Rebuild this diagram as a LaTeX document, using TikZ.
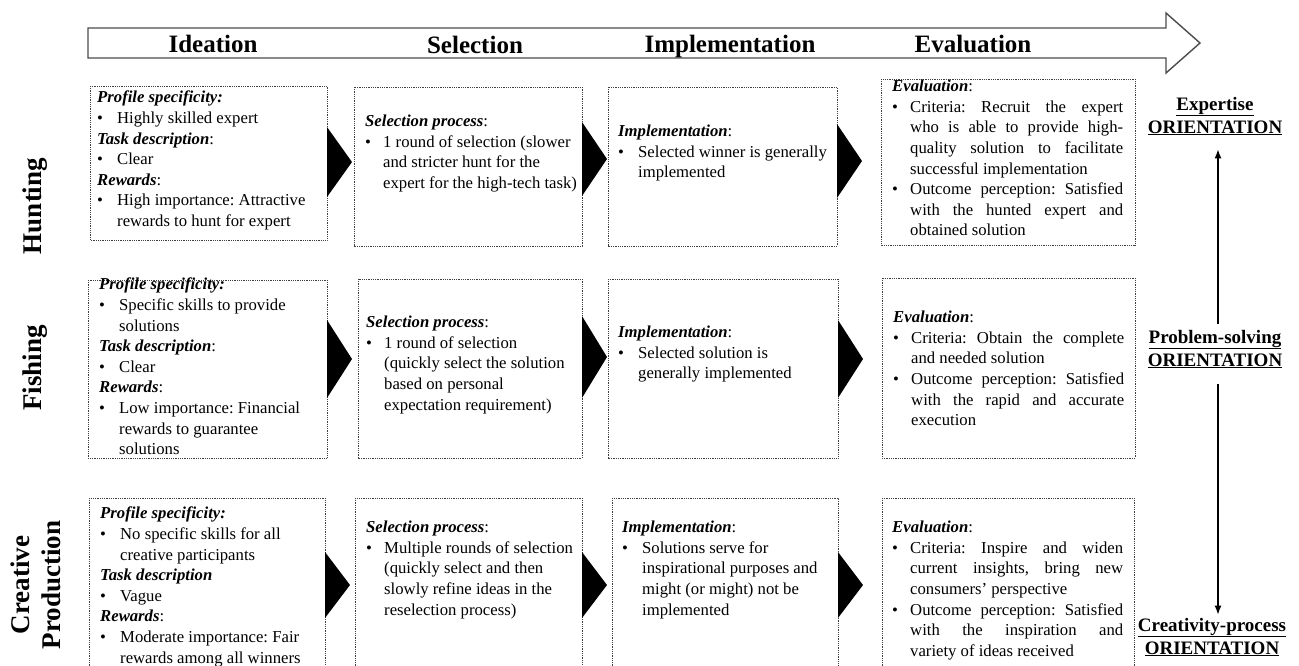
\documentclass[tikz,border=0pt]{standalone}
\usepackage{fontspec}
\setmainfont{Liberation Serif}
\usetikzlibrary{arrows.meta}
\newlength{\bind}
\setlength{\bind}{20pt}
\newcommand{\hd}[1]{\textbf{\textit{#1}}}
\newcommand{\bl}{\makebox[\bind][l]{\textbullet}}
\newcommand{\ind}{\hspace*{\bind}}
\newcommand{\jl}[1]{\makebox[213pt][s]{#1}}
\frenchspacing
\begin{document}
\begin{tikzpicture}[x=1pt,y=-1pt,
  boxline/.style={draw=black!75, line width=0.9pt, dash pattern=on 0.9pt off 0.9pt},
  txt/.style={anchor=north west, inner sep=0pt, align=left, font=\fontsize{16.7}{20.6}\selectfont},
  head/.style={anchor=base, inner sep=0pt, font=\fontsize{25}{30}\selectfont\bfseries},
  rowlab/.style={rotate=90, inner sep=0pt, align=center, font=\fontsize{27}{31}\selectfont\bfseries},
  orient/.style={inner sep=0pt, align=center, font=\fontsize{19}{23}\selectfont\bfseries},
  tri/.style={fill=black},
  vert/.style={line width=1.3pt, -{Latex[length=9pt,width=7pt]}}
]
\useasboundingbox (0,0) rectangle (1299,665);
\clip (0,0) rectangle (1299,665);
\fill[white] (0,0) rectangle (1299,665);

% top process arrow
\draw[draw=black!70, line width=1.4pt, fill=white]
  (88,28) -- (1166,28) -- (1166,13) -- (1200,43) -- (1166,73) -- (1166,58) -- (88,58) -- cycle;
\node[head] (h1) at (213,52) {Ideation};
\node[head] (h2) at (475,53) {Selection};
\node[head] (h3) at (730,52) {Implementation};
\node[head] (h4) at (973,52) {Evaluation};

% row labels
\node[rowlab] (hunt) at (35,206) {Hunting};
\node[rowlab] (fish) at (35,368) {Fishing};
\node[rowlab] (crea) at (36,585) {Creative\\Production};

% boxes
\draw[boxline] (90,86) rectangle (327,240);
\draw[boxline] (354,87) rectangle (582,246);
\draw[boxline] (608,87) rectangle (837,246);
\draw[boxline] (881,79) rectangle (1135,245);
\draw[boxline] (88,280) rectangle (327,458);
\draw[boxline] (358,279) rectangle (582,458);
\draw[boxline] (608,279) rectangle (838,458);
\draw[boxline] (882,278) rectangle (1135,458);
\draw[boxline] (89,498) rectangle (325,700);
\draw[boxline] (355,498) rectangle (582,700);
\draw[boxline] (612,498) rectangle (838,700);
\draw[boxline] (882,498) rectangle (1134,700);

% triangles
\fill[tri] (327,127) -- (352,162) -- (327,197) -- cycle;
\fill[tri] (582,122) -- (607,159) -- (582,196) -- cycle;
\fill[tri] (837,124) -- (862,161) -- (837,198) -- cycle;
\fill[tri] (327,320) -- (352,359) -- (327,398) -- cycle;
\fill[tri] (582,316) -- (607,357) -- (582,398) -- cycle;
\fill[tri] (838,320) -- (863,359) -- (838,398) -- cycle;
\fill[tri] (325,552) -- (350,585) -- (325,618) -- cycle;
\fill[tri] (582,552) -- (607,585) -- (582,618) -- cycle;
\fill[tri] (838,552) -- (863,585) -- (838,618) -- cycle;

% row 1 texts
\node[txt] (a1) at (97,91) {\hd{Profile specificity:}\\
\bl Highly skilled expert\\
\hd{Task description}:\\
\bl Clear\\
\hd{Rewards}:\\
\bl High importance: Attractive\\
\ind rewards to hunt for expert};
\setlength{\bind}{18pt}
\node[txt] (b1) at (365,115) {\hd{Selection process}:\\
\bl 1 round of selection (slower\\
\ind and stricter hunt for the\\
\ind expert for the high-tech task)};
\setlength{\bind}{20pt}
\node[txt] (c1) at (618,125) {\hd{Implementation}:\\
\bl Selected winner is generally\\
\ind implemented};
\setlength{\bind}{18pt}
\node[txt] (d1) at (892,80) {\hd{Evaluation}:\\
\bl\jl{Criteria: Recruit the expert}\\
\ind\jl{who is able to provide high-}\\
\ind\jl{quality solution to facilitate}\\
\ind successful implementation\\
\bl\jl{Outcome perception: Satisfied}\\
\ind\jl{with the hunted expert and}\\
\ind obtained solution};

% row 2 texts
\setlength{\bind}{20pt}
\node[txt] (a2) at (99,278) {\hd{Profile specificity:}\\
\bl Specific skills to provide\\
\ind solutions\\
\hd{Task description}:\\
\bl Clear\\
\hd{Rewards}:\\
\bl Low importance: Financial\\
\ind rewards to guarantee\\
\ind solutions};
\setlength{\bind}{18pt}
\node[txt] (b2) at (366,316) {\hd{Selection process}:\\
\bl 1 round of selection\\
\ind (quickly select the solution\\
\ind based on personal\\
\ind expectation requirement)};
\setlength{\bind}{20pt}
\node[txt] (c2) at (618,326) {\hd{Implementation}:\\
\bl Selected solution is\\
\ind generally implemented};
\setlength{\bind}{18pt}
\node[txt] (d2) at (893,311) {\hd{Evaluation}:\\
\bl\jl{Criteria: Obtain the complete}\\
\ind and needed solution\\
\bl\jl{Outcome perception: Satisfied}\\
\ind\jl{with the rapid and accurate}\\
\ind execution};

% row 3 texts
\setlength{\bind}{20pt}
\node[txt] (a3) at (100,507) {\hd{Profile specificity:}\\
\bl No specific skills for all\\
\ind creative participants\\
\hd{Task description}\\
\bl Vague\\
\hd{Rewards}:\\
\bl Moderate importance: Fair\\
\ind rewards among all winners};
\setlength{\bind}{18pt}
\node[txt] (b3) at (366,521) {\hd{Selection process}:\\
\bl Multiple rounds of selection\\
\ind (quickly select and then\\
\ind slowly refine ideas in the\\
\ind reselection process)};
\setlength{\bind}{20pt}
\node[txt] (c3) at (622,521) {\hd{Implementation}:\\
\bl Solutions serve for\\
\ind inspirational purposes and\\
\ind might (or might) not be\\
\ind implemented};
\setlength{\bind}{18pt}
\node[txt] (d3) at (892,521) {\hd{Evaluation}:\\
\bl\jl{Criteria: Inspire and widen}\\
\ind\jl{current insights, bring new}\\
\ind consumers’ perspective\\
\bl\jl{Outcome perception: Satisfied}\\
\ind\jl{with the inspiration and}\\
\ind variety of ideas received};

% orientation column
\node[orient] (exp) at (1215,116) {\underline{Expertise}\\\underline{ORIENTATION}};
\node[orient] (prob) at (1215,349) {\underline{Problem-solving}\\\underline{ORIENTATION}};
\node[orient] (cre) at (1212,637) {\underline{Creativity-process}\\\underline{ORIENTATION}};
\draw[vert, shorten <=6pt, shorten >=14pt] (prob.north -| 1218,0) -- (exp.south -| 1218,0);
\draw[vert, shorten <=16pt, shorten >=3pt] (prob.south -| 1218,0) -- (cre.north -| 1218,0);
\end{tikzpicture}
\end{document}
